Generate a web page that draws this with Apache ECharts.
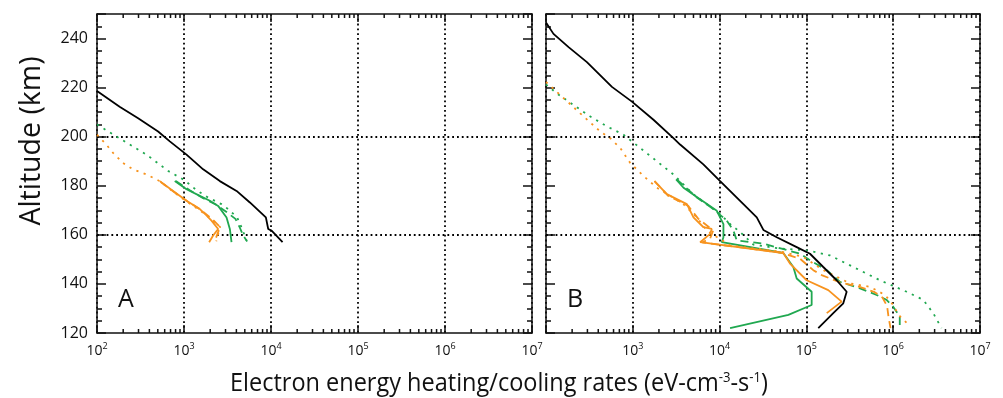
<!DOCTYPE html>
<html><head><meta charset="utf-8">
<script src="https://cdn.jsdelivr.net/npm/echarts@6/dist/echarts.min.js"></script>
<style>html,body{margin:0;padding:0;background:#fff;}#c{width:1003px;height:398px;}</style>
</head><body><div id="c"></div>
<script>
// ---------- data: [rate (eV cm^-3 s^-1), altitude (km)] ----------
const A_black = [[100,218.6],[182,212.2],[297,207.5],[504,202.1],[687,198.1],[1069,192.7],[1660,186.7],[2582,181.9],[4018,177.9],[5715,173.2],[8730,167.1],[9290,162.4],[10160,161.7],[13580,157.0]];
const A_green = [[783,181.9],[1069,178.6],[1521,175.9],[1982,173.9],[2468,171.8],[3083,167.1],[3365,162.4],[3516,157.0]];
const A_greenDash = [[805,181.9],[1167,178.2],[1660,174.9],[2366,172.2],[3083,169.3],[3900,166.5],[4350,163.2],[4786,159.7],[5321,157.3]];
const A_greenDot = [[100,205.0],[167,200.1],[238,196.8],[370,192.7],[660,186.0],[1000,182.4],[1393,178.2],[1893,175.2],[2698,172.5],[3221,170.5],[4083,167.1],[4581,163.1],[5236,157.7]];
const A_orange = [[527,181.9],[750,177.9],[1069,173.9],[1521,170.5],[1800,168.0],[2070,165.8],[2468,162.4],[2163,159.7],[1945,157.0]];
const A_orangeDash = [[540,181.5],[760,177.6],[1100,173.6],[1560,170.2],[2100,166.5],[2600,163.2],[2400,160.0],[2250,157.2]];
const A_orangeDot = [[100,200.8],[128,196.8],[153,193.4],[199,189.3],[259,186.7],[370,184.6],[527,181.9],[750,177.6],[1069,173.6],[1521,170.0],[2070,166.3],[2600,163.2],[2350,157.4]];

const B_black = [[100,246.5],[122,241.9],[182,236.5],[296,230.4],[575,220.3],[977,214.3],[1730,206.9],[2938,199.4],[3508,196.8],[6500,188.7],[10140,181.9],[18800,172.5],[26800,167.1],[31950,162.0],[45500,159.0],[77300,155.0],[110000,152.3],[156500,146.9],[223000,141.5],[291000,136.8],[266000,132.1],[204000,128.1],[137000,122.0]];
const B_green = [[3155,182.6],[3840,179.2],[5960,174.5],[9290,169.8],[11070,164.4],[11070,159.0],[10600,157.0],[54200,152.6],[70700,146.9],[77300,142.2],[115000,136.8],[115000,131.4],[62000,127.4],[13200,122.0]];
const B_greenDash = [[3210,182.6],[5470,175.2],[8490,170.5],[12100,165.8],[14430,161.7],[15780,157.7],[31900,156.4],[84700,152.3],[110000,149.6],[171600,145.6],[244000,140.8],[414000,138.2],[644000,135.5],[839000,133.5],[1000000,130.7],[1190000,126.7],[1190000,122.7]];
const B_greenDot = [[100,221.3],[134,217.6],[208,212.9],[324,208.2],[504,204.2],[782,200.8],[1216,195.4],[1893,190.0],[2938,184.6],[5000,176.5],[7120,172.5],[10140,168.5],[13200,164.4],[17200,161.2],[24500,156.0],[47500,154.5],[75000,154.0],[110000,153.5],[187500,151.6],[347000,146.9],[703000,141.5],[1430000,136.8],[2220000,133.5],[2890000,128.1],[3600000,122.0]];
const B_orange = [[1778,181.9],[2468,176.6],[4198,172.5],[5000,167.1],[6520,163.1],[8120,162.4],[7780,160.4],[5970,157.0],[54200,152.6],[64700,148.3],[100700,141.5],[178600,137.5],[254600,132.8],[171500,128.1]];
const B_orangeDash = [[1778,181.9],[2560,175.9],[4350,171.8],[5660,166.6],[7380,163.4],[8420,161.7],[7780,158.5],[6300,156.9],[50000,152.8],[85000,150.2],[120000,145.6],[150000,143.6],[250000,140.5],[400000,138.9],[600000,136.8],[750000,134.5],[850000,131.0],[880000,127.0],[930000,122.0]];
const B_orangeDot = [[100,222.3],[146,217.0],[248,209.5],[422,202.1],[549,199.4],[716,195.4],[933,189.3],[1328,184.0],[1893,179.2],[2692,175.9],[3830,172.5],[5470,167.1],[7120,161.7],[13200,155.7],[54200,153.0],[92000,151.0],[156500,145.6],[319000,140.2],[542000,138.8],[807000,135.5],[1000000,131.4],[1150000,127.4],[1570000,122.7]];

// ---------- axes / ticks ----------
const xMin = 100, xMax = 1e7;
const yMin = 120, yMax = 250, yMajor = 20, yMinor = 5;
const xMinorTicks = [];
for (let e = 2; e < 7; e++) for (let m = 2; m <= 9; m++) xMinorTicks.push(m * Math.pow(10, e));
const hGrid = [160, 200];
const panelLabels = ['A', 'B'];
const yTitle = 'Altitude (km)';

const BLACK = '#000000', GREEN = '#20a850', ORANGE = '#f7931e';
const FONT = 'Open Sans';

const panels = [
  {series: [A_black, A_green, A_greenDash, A_greenDot, A_orange, A_orangeDash, A_orangeDot]},
  {series: [B_black, B_green, B_greenDash, B_greenDot, B_orange, B_orangeDash, B_orangeDot]}
];
const styles = [
  {color: BLACK, type: 'solid'},
  {color: GREEN, type: 'solid'},
  {color: GREEN, type: [8, 5]},
  {color: GREEN, type: [2.2, 5.5]},
  {color: ORANGE, type: 'solid'},
  {color: ORANGE, type: [8, 5]},
  {color: ORANGE, type: [2.2, 5.5]}
];

const grids = [
  {left: 97, top: 14, width: 435, height: 319},
  {left: 546, top: 14, width: 434, height: 319}
];

const axisLine = {show: true, onZero: false, lineStyle: {color: '#111', width: 1.5}};
const dotted = {color: '#000', width: 1.8, type: [1.8, 3]};
const tickCol = '#111';

const xAxes = [], yAxes = [], series = [];
panels.forEach((p, gi) => {
  const logFmt = v => {
    const e = Math.round(Math.log10(v));
    if (gi === 1 && e === 2) return '';
    return '{b|10}{s|' + e + '}';
  };
  xAxes.push({type: 'log', logBase: 10, gridIndex: gi, min: xMin, max: xMax, position: 'bottom',
    axisLine, axisTick: {show: true, inside: true, length: 8, lineStyle: {color: tickCol, width: 1.5}},
    axisLabel: {show: true, margin: 9, formatter: logFmt, color: '#111',
      rich: {b: {fontFamily: FONT, fontSize: 14, color: '#111'}, s: {fontFamily: FONT, fontSize: 9, color: '#111', padding: [0, 0, 9, 0]}}},
    splitLine: {show: true, lineStyle: dotted}});
  xAxes.push({type: 'log', logBase: 10, gridIndex: gi, min: xMin, max: xMax, position: 'top',
    axisLine, axisLabel: {show: false}, splitLine: {show: false},
    axisTick: {show: true, inside: true, length: 8, lineStyle: {color: tickCol, width: 1.5}}});

  yAxes.push({type: 'value', gridIndex: gi, min: yMin, max: yMax, interval: yMajor, position: 'left',
    axisLine, splitLine: {show: false},
    axisTick: {show: true, inside: true, length: 9, lineStyle: {color: tickCol, width: 1.5}},
    axisLabel: {show: gi === 0, margin: 9, color: '#111', fontFamily: FONT, fontSize: 16,
      formatter: v => (v % yMajor === 0 ? String(v) : '')}});
  yAxes.push({type: 'value', gridIndex: gi, min: yMin, max: yMax, interval: yMinor, position: 'left',
    axisLine: {show: false}, splitLine: {show: false}, axisLabel: {show: false},
    axisTick: {show: true, inside: true, length: 5, lineStyle: {color: tickCol, width: 1.5}}});
  yAxes.push({type: 'value', gridIndex: gi, min: yMin, max: yMax, interval: yMajor, position: 'right',
    axisLine, splitLine: {show: false}, axisLabel: {show: false},
    axisTick: {show: true, inside: true, length: 9, lineStyle: {color: tickCol, width: 1.5}}});
  yAxes.push({type: 'value', gridIndex: gi, min: yMin, max: yMax, interval: yMinor, position: 'right',
    axisLine: {show: false}, splitLine: {show: false}, axisLabel: {show: false},
    axisTick: {show: true, inside: true, length: 5, lineStyle: {color: tickCol, width: 1.5}}});

  p.series.forEach((data, si) => {
    const st = styles[si];
    const s = {
      type: 'line', xAxisIndex: gi * 2, yAxisIndex: gi * 4, data: data,
      showSymbol: false, symbol: 'none', silent: true, animation: false,
      lineStyle: {color: st.color, width: 1.8, type: st.type}, z: 3 + (si === 0 ? 1 : 0)
    };
    if (si === 0) {
      s.markLine = {silent: true, symbol: ['none', 'none'], animation: false, label: {show: false},
        lineStyle: dotted, emphasis: {disabled: true}, z: 1,
        data: hGrid.map(v => ({yAxis: v}))};
    }
    series.push(s);
  });

  // minor log ticks (2..9 per decade) on bottom and top frame, placed through the x scale
  series.push({
    type: 'custom', xAxisIndex: gi * 2, yAxisIndex: gi * 4, silent: true, animation: false, clip: false, z: 5,
    data: xMinorTicks.map(v => [v, yMin]),
    renderItem: (params, api) => {
      const v = api.value(0);
      const b = api.coord([v, yMin]);
      const t = api.coord([v, yMax]);
      const st = {stroke: tickCol, lineWidth: 1.5};
      return {type: 'group', children: [
        {type: 'line', shape: {x1: b[0], y1: b[1], x2: b[0], y2: b[1] - 4}, style: st},
        {type: 'line', shape: {x1: t[0], y1: t[1], x2: t[0], y2: t[1] + 4}, style: st}
      ]};
    }
  });
});

const graphic = [
  {type: 'text', left: 118, top: 287, style: {text: panelLabels[0], font: '25px "Open Sans"', fill: '#111'}},
  {type: 'text', left: 567, top: 287, style: {text: panelLabels[1], font: '25px "Open Sans"', fill: '#111'}},
  {type: 'text', x: 31, y: 141, rotation: Math.PI / 2, scaleX: 0.95,
    style: {text: yTitle, font: '30px "Open Sans"', fill: '#111', align: 'center', verticalAlign: 'middle'}},
  {type: 'text', x: 499, y: 384, scaleX: 0.94,
    style: {text: '{n|Electron energy heating/cooling rates (eV-cm}{s|-3}{n|-s}{s|-1}{n|)}', fill: '#111', align: 'center', verticalAlign: 'middle',
      rich: {n: {fontFamily: FONT, fontSize: 25, fill: '#111'}, s: {fontFamily: FONT, fontSize: 14, fill: '#111', padding: [0, 0, 12, 0]}}}}
];

const chart = echarts.init(document.getElementById('c'), null, {renderer: 'canvas'});
chart.setOption({
  animation: false,
  backgroundColor: '#ffffff',
  grid: grids,
  xAxis: xAxes,
  yAxis: yAxes,
  series: series,
  graphic: graphic
});
</script></body></html>
